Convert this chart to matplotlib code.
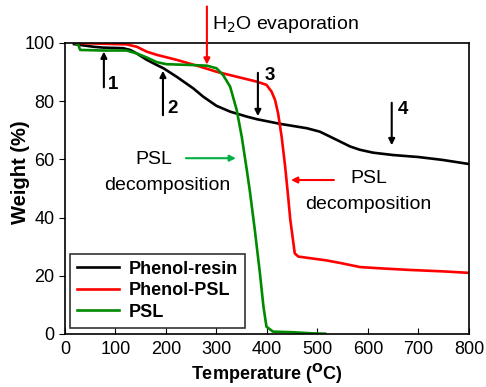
import matplotlib
matplotlib.use("Agg")
import matplotlib.pyplot as plt

plt.rcParams['font.family'] = ['Liberation Sans', 'DejaVu Sans']

# Phenol-resin
resin_T = [18, 56, 76, 115, 129, 142, 162, 182, 195, 221, 254, 274, 300, 327, 360, 380,
           426, 479, 505, 525, 545, 565, 584, 610, 649, 700, 748, 800]
resin_W = [99.6, 98.7, 98.4, 98.2, 97.6, 96.4, 94.2, 92.4, 91.3, 88.4, 84.4, 81.5, 78.4, 76.4,
           74.7, 73.8, 72.2, 70.7, 69.5, 67.8, 66.1, 64.4, 63.3, 62.3, 61.5, 60.8, 59.8, 58.4]
# Phenol-PSL
ppsl_T = [20, 122, 142, 162, 182, 221, 267, 300, 340, 380, 399, 409, 416, 422, 429, 436, 442,
          446, 455, 462, 517, 545, 584, 620, 683, 750, 800]
ppsl_W = [100, 99.5, 98.7, 97.0, 95.9, 94.2, 91.9, 90.1, 88.4, 86.7, 85.6, 83.3, 80.4, 75.8,
          67.8, 57.5, 47.0, 39.5, 27.7, 26.6, 25.3, 24.4, 23.0, 22.6, 22.0, 21.5, 21.0]
# PSL
psl_T = [20, 26, 30, 76, 122, 142, 162, 182, 201, 254, 281, 300, 313, 327, 340, 350, 360,
         366, 376, 386, 393, 399, 412, 451, 492, 515]
psl_W = [100, 99.5, 97.6, 97.4, 97.4, 96.4, 95.0, 93.4, 92.7, 92.4, 92.2, 91.3, 89.0, 85.0,
         77.0, 67.8, 56.4, 49.2, 35.6, 20.9, 9.4, 2.5, 0.8, 0.6, 0.2, 0.1]

fig = plt.figure(figsize=(4.86, 3.87), dpi=100)
ax = fig.add_axes([0.1337, 0.137, 0.8313, 0.752])

ax.plot(resin_T, resin_W, color='black', lw=1.9, label='Phenol-resin')
ax.plot(ppsl_T, ppsl_W, color='#ff0000', lw=1.9, label='Phenol-PSL')
ax.plot(psl_T, psl_W, color='#008a00', lw=1.9, label='PSL')

ax.set_xlim(0, 800)
ax.set_ylim(0, 100)
ax.set_xticks(range(0, 801, 100))
ax.set_yticks(range(0, 101, 20))
ax.tick_params(axis='x', direction='in', labelsize=13, length=4, pad=5)
ax.tick_params(axis='y', direction='out', labelsize=13, length=4)
for s in ax.spines.values():
    s.set_linewidth(1.2)

ax.set_xlabel('Temperature ($\\mathbf{^{O}}$C)', fontsize=13, fontweight='bold', labelpad=3)
fig.text(20 / 486, 1 - 172 / 387, 'Weight (%)', rotation=90, fontsize=14.5, fontweight='bold',
         ha='center', va='center')

ap = dict(arrowstyle='-|>', lw=1.5, mutation_scale=9)

# numbered arrows
ax.annotate('', xy=(77, 98.0), xytext=(77, 83.8), arrowprops=dict(color='black', **ap))
ax.text(95, 85.6, '1', fontsize=13.5, fontweight='bold', ha='center', va='center')
ax.annotate('', xy=(194, 91.4), xytext=(194, 74.2), arrowprops=dict(color='black', **ap))
ax.text(214, 77.6, '2', fontsize=13.5, fontweight='bold', ha='center', va='center')
ax.annotate('', xy=(382, 73.9), xytext=(382, 90.7), arrowprops=dict(color='black', **ap))
ax.text(406, 88.7, '3', fontsize=13.5, fontweight='bold', ha='center', va='center')
ax.annotate('', xy=(647, 63.9), xytext=(647, 80.4), arrowprops=dict(color='black', **ap))
ax.text(669, 77.3, '4', fontsize=13.5, fontweight='bold', ha='center', va='center')

# H2O evaporation
ax.annotate('', xy=(281, 91.6), xytext=(281, 113.5), annotation_clip=False,
            arrowprops=dict(color='#ff0000', **ap))
ax.text(291, 106.5, 'H$_2$O evaporation', fontsize=14, ha='left', va='center', clip_on=False)

# PSL decomposition (green)
ax.annotate('', xy=(344, 60.4), xytext=(234, 60.4), arrowprops=dict(color='#00b040', **ap))
ax.text(176, 60.0, 'PSL', fontsize=14, ha='center', va='center')
ax.text(203, 51.0, 'decomposition', fontsize=14, ha='center', va='center')

# PSL decomposition (red)
ax.annotate('', xy=(442, 52.9), xytext=(538, 52.9), arrowprops=dict(color='#ff0000', **ap))
ax.text(601, 53.4, 'PSL', fontsize=14, ha='center', va='center')
ax.text(601, 44.4, 'decomposition', fontsize=14, ha='center', va='center')

leg = ax.legend(loc='lower left', bbox_to_anchor=(0.0124, 0.0206), borderaxespad=0,
                prop={'weight': 'bold', 'size': 13},
                frameon=True, fancybox=False, edgecolor='black', handlelength=2.3,
                borderpad=0.4, labelspacing=0.25, handletextpad=0.55)
leg.get_frame().set_linewidth(1.2)

fig.savefig('out.png', dpi=100)
